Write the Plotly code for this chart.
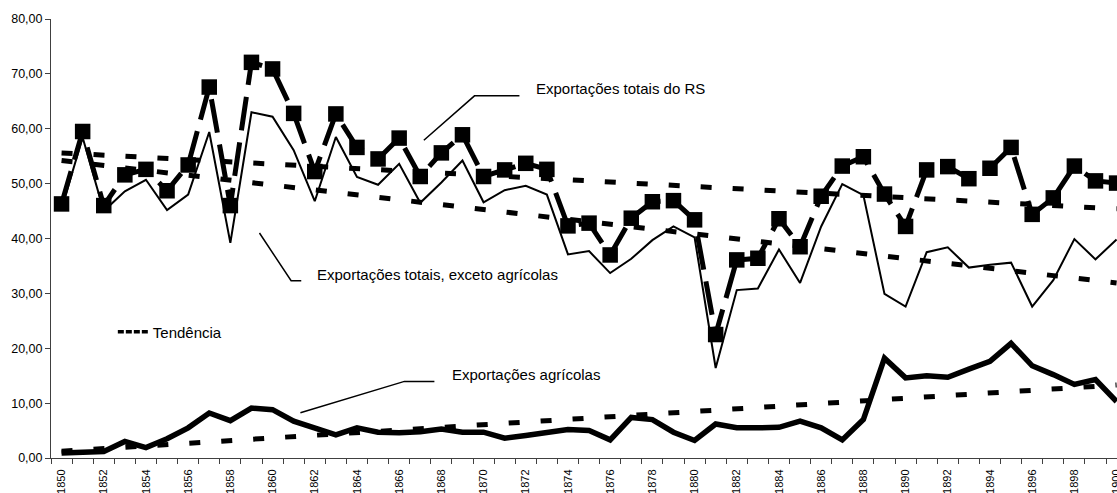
import plotly.graph_objects as go

years = list(range(1850, 1901))

total_exports = [46.3, 59.5, 46.0, 51.6, 52.6, 48.7, 53.4, 67.6, 46.0, 72.1,
                 70.9, 62.8, 52.2, 62.7, 56.6, 54.5, 58.3, 51.3, 55.6, 58.9,
                 51.3, 52.5, 53.7, 52.6, 42.3, 42.8, 37.0, 43.7, 46.7, 46.9,
                 43.4, 22.5, 36.1, 36.4, 43.6, 38.5, 47.7, 53.2, 54.9, 48.1,
                 42.2, 52.5, 53.1, 50.9, 52.8, 56.6, 44.4, 47.4, 53.2, 50.5, 50.1]

non_agri_exports = [45.4, 58.4, 45.0, 48.6, 50.7, 45.2, 48.0, 59.4, 39.2, 63.0,
                    62.2, 56.1, 46.8, 58.5, 51.2, 49.8, 53.6, 46.5, 50.2, 54.2,
                    46.6, 48.8, 49.6, 48.0, 37.1, 37.7, 33.7, 36.3, 39.7, 42.2,
                    40.2, 16.4, 30.6, 30.9, 38.0, 31.9, 42.2, 49.9, 47.9, 29.9,
                    27.6, 37.5, 38.4, 34.7, 35.2, 35.6, 27.6, 32.4, 39.9, 36.2, 39.8]

agri_exports = [0.9, 1.1, 1.2, 3.0, 1.9, 3.5, 5.5, 8.2, 6.8, 9.1,
                8.8, 6.7, 5.5, 4.2, 5.5, 4.7, 4.6, 4.8, 5.3, 4.7,
                4.7, 3.6, 4.1, 4.6, 5.2, 5.0, 3.3, 7.4, 7.0, 4.7,
                3.2, 6.2, 5.5, 5.5, 5.6, 6.7, 5.5, 3.3, 7.0, 18.2,
                14.6, 15.0, 14.7, 16.2, 17.6, 20.9, 16.8, 15.2, 13.4, 14.3, 10.3]

# trend lines (values read at the two ends of the period)
trend_years = [1850, 1900]
trend_total = [55.6, 45.4]
trend_non_agri = [54.2, 31.9]
trend_agri = [1.25, 13.3]

tick_years = list(range(1850, 1901, 2))
tick_labels = [str(y) for y in tick_years]
boundary_ticks = [y - 0.5 for y in years]
y_ticks = list(range(0, 81, 10))

FONT = "Liberation Sans, Arial, sans-serif"
BLACK = "#000000"
AXIS = "#404040"

fig = go.Figure()

fig.add_trace(go.Scatter(
    x=years, y=total_exports, mode="lines+markers", name="Exportações totais do RS",
    line=dict(color=BLACK, width=5, dash="34px,12px"),
    marker=dict(symbol="square", size=15.5, color=BLACK, line=dict(width=0)),
    showlegend=False))

fig.add_trace(go.Scatter(
    x=years, y=non_agri_exports, mode="lines", name="Exportações totais, exceto agrícolas",
    line=dict(color=BLACK, width=2), showlegend=False))

fig.add_trace(go.Scatter(
    x=years, y=agri_exports, mode="lines", name="Exportações agrícolas",
    line=dict(color=BLACK, width=5.5), showlegend=False))

for tr in (trend_total, trend_non_agri, trend_agri):
    fig.add_trace(go.Scatter(
        x=trend_years, y=tr, mode="lines",
        line=dict(color=BLACK, width=5, dash="11px,21px"),
        showlegend=False, hoverinfo="skip"))

# legend entry for the trend lines
fig.add_trace(go.Scatter(
    x=[None], y=[None], mode="lines", name="Tendência",
    line=dict(color=BLACK, width=3.5, dash="6px,2px"), showlegend=True))

# leader lines for labels
leaders = [
    ([1867.17, 1869.57, 1871.70], [57.9, 66.0, 66.0]),
    ([1859.38, 1860.88, 1861.36], [41.0, 32.3, 32.3]),
    ([1861.32, 1866.25, 1867.67], [8.25, 13.96, 13.96]),
]
for xs, ys in leaders:
    path = "M {} {} L {} {} L {} {}".format(xs[0], ys[0], xs[1], ys[1], xs[2], ys[2])
    fig.add_shape(type="path", path=path, xref="x", yref="y",
                  line=dict(color=BLACK, width=1.5))

labels = [
    ("Exportações totais do RS", 1872.41, 67.3),
    ("Exportações totais, exceto agrícolas", 1862.03, 33.5),
    ("Exportações agrícolas", 1868.39, 15.3),
]
for txt, lx, ly in labels:
    fig.add_annotation(text=txt, x=lx, y=ly, xref="x", yref="y",
                       xanchor="left", yanchor="middle", showarrow=False,
                       font=dict(family=FONT, size=15, color=BLACK))

fig.update_layout(
    width=1117, height=493,
    margin=dict(l=51, r=0, t=19, b=35, autoexpand=False),
    paper_bgcolor="white", plot_bgcolor="white",
    separators=",.",
    font=dict(family=FONT, color=BLACK),
    legend=dict(x=0.058, y=0.287, xanchor="left", yanchor="middle",
                bgcolor="rgba(0,0,0,0)", font=dict(family=FONT, size=15, color=BLACK),
                itemwidth=30),
)

fig.update_xaxes(
    range=[1849.5, 1900.02], showgrid=False, zeroline=False, automargin=False,
    showline=True, linecolor=AXIS, linewidth=1,
    tickmode="array", tickvals=tick_years, ticktext=tick_labels,
    tickangle=-90, ticks="outside", ticklen=6, tickcolor="rgba(0,0,0,0)",
    ticklabeloverflow="allow",
    tickfont=dict(family=FONT, size=11, color=BLACK),
    minor=dict(tickmode="array", tickvals=boundary_ticks, ticks="outside",
               ticklen=5, tickcolor=AXIS, tickwidth=1),
)

fig.update_yaxes(
    range=[0, 80], showgrid=False, zeroline=False, automargin=False,
    showline=True, linecolor=AXIS, linewidth=1,
    tickmode="array", tickvals=y_ticks, tickformat=".2f",
    ticks="outside", ticklen=5, tickcolor=AXIS,
    tickfont=dict(family=FONT, size=12.5, color=BLACK),
)

fig.write_html("out.html", config={"displayModeBar": False},
               post_script="document.body.style.margin='0';")
